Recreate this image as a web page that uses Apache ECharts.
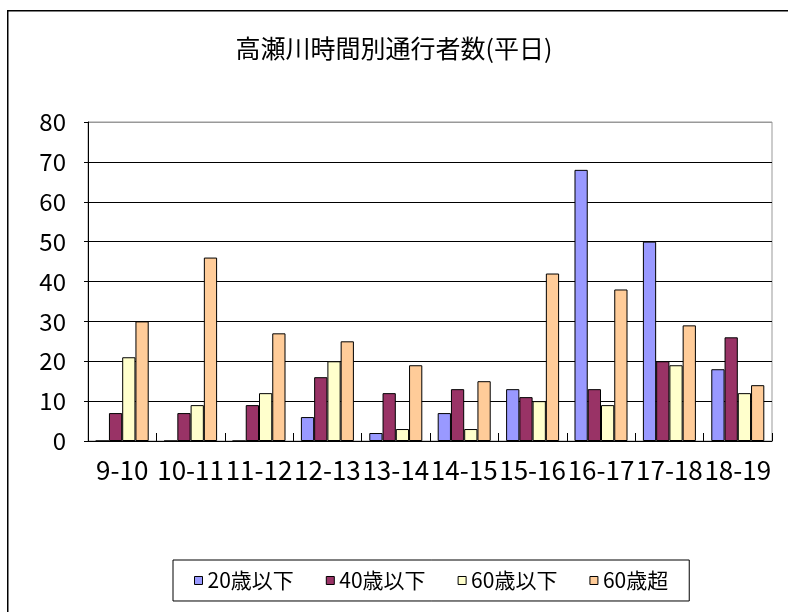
<!DOCTYPE html>
<html>
<head>
<meta charset="utf-8">
<script src="https://cdn.jsdelivr.net/npm/echarts@6/dist/echarts.min.js"></script>
<style>html,body{margin:0;padding:0;background:#fff}#c{width:788px;height:612px}</style>
</head>
<body>
<div id="c"></div>
<script>
const titleText = '高瀬川時間別通行者数(平日)';
const categories = ['9-10','10-11','11-12','12-13','13-14','14-15','15-16','16-17','17-18','18-19'];
const seriesNames = ['20歳以下','40歳以下','60歳以下','60歳超'];
const under20 = [0, 0, 0, 6, 2, 7, 13, 68, 50, 18];
const under40 = [7, 7, 9, 16, 12, 13, 11, 13, 20, 26];
const under60 = [21, 9, 12, 20, 3, 3, 10, 9, 19, 12];
const over60  = [30, 46, 27, 25, 19, 15, 42, 38, 29, 14];
const yTicks = [0, 10, 20, 30, 40, 50, 60, 70, 80];

const colors = ['#9999FF', '#993366', '#FFFFCC', '#FFCC99'];
const numFont = '"Noto Sans CJK JP", sans-serif';
const cjkFont = '"Noto Sans CJK JP", sans-serif';

const chart = echarts.init(document.getElementById('c'), null, {renderer: 'canvas'});
const dataArr = [under20, under40, under60, over60];
const splitColors = yTicks.map((v, i) => i === yTicks.length - 1 ? '#999' : '#000');

chart.setOption({
  animation: false,
  backgroundColor: '#fff',
  graphic: [{
    type: 'rect', left: 7, top: 10, z: -1,
    shape: {width: 900, height: 700},
    style: {fill: '#fff', stroke: '#000', lineWidth: 1.5}
  }],
  title: {
    text: titleText, left: 'center', top: 36, padding: 0,
    textStyle: {fontFamily: cjkFont, fontSize: 25, fontWeight: 'normal', color: '#000'}
  },
  legend: {
    data: seriesNames, left: 173, top: 560,
    padding: [10, 21], itemGap: 32,
    itemWidth: 8, itemHeight: 8, icon: 'rect',
    borderColor: '#000', borderWidth: 1,
    itemStyle: {borderColor: '#000', borderWidth: 1},
    textStyle: {fontFamily: cjkFont, fontSize: 21, color: '#000'}
  },
  grid: {left: 88, right: 16, top: 122, bottom: 171, show: true, borderColor: '#999', borderWidth: 1, containLabel: false},
  xAxis: {
    type: 'category', data: categories,
    axisLine: {lineStyle: {color: '#000', width: 1}},
    axisTick: {show: true, inside: true, length: 8, lineStyle: {color: '#000'}},
    axisLabel: {fontFamily: numFont, fontSize: 26, color: '#000', margin: 16, interval: 0}
  },
  yAxis: {
    type: 'value', min: 0, max: 80, interval: 10,
    axisLine: {show: true, lineStyle: {color: '#000', width: 1}},
    axisTick: {show: true, length: 4, lineStyle: {color: '#000'}},
    axisLabel: {fontFamily: numFont, fontSize: 24, color: '#000', margin: 22},
    splitLine: {show: true, lineStyle: {color: splitColors, width: 1}}
  },
  series: seriesNames.map((n, i) => ({
    name: n, type: 'bar', data: dataArr[i],
    barGap: '0%', barCategoryGap: '22.5%',
    itemStyle: {color: colors[i], borderColor: '#000', borderWidth: 1}
  }))
});
</script>
</body>
</html>
